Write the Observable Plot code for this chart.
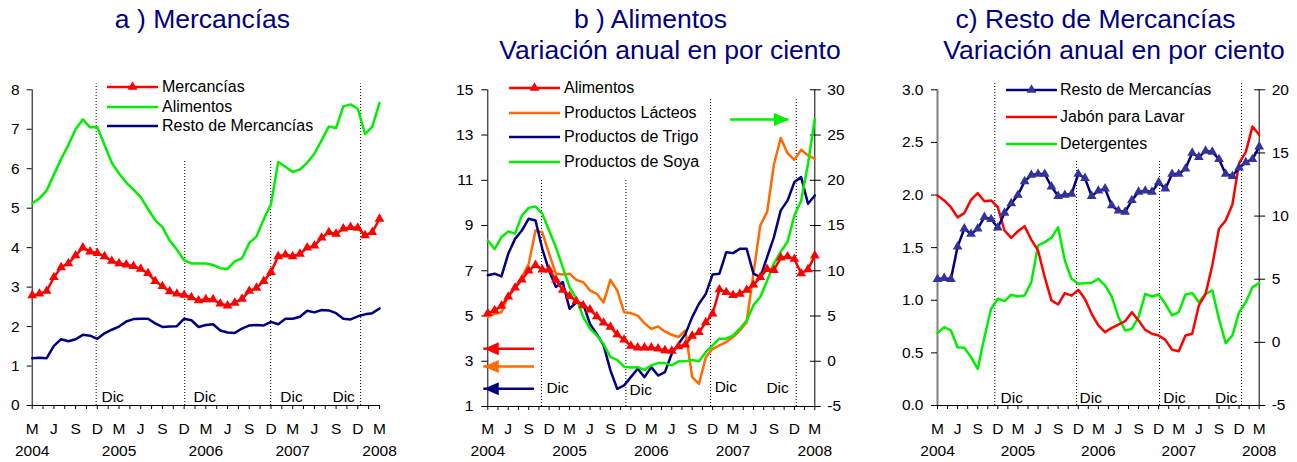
<!DOCTYPE html>
<html>
<head>
<meta charset="utf-8">
<script src="https://cdn.jsdelivr.net/npm/d3@7"></script>
<script src="https://cdn.jsdelivr.net/npm/@observablehq/plot@0.6"></script>
<style>
html, body { margin: 0; padding: 0; background: #fff; }
#root { position: relative; width: 1297px; height: 462px; overflow: hidden;
  font-family: "Liberation Sans", Arial, Helvetica, sans-serif; }
.title { position: absolute; color: #000080; font-size: 26.5px; line-height: 26.5px;
  white-space: nowrap; text-align: center; width: 600px; }
.panel { position: absolute; top: 70px; }
.legtext { position: absolute; font-size: 16px; line-height: 16px; white-space: nowrap; color: #000; }
</style>
</head>
<body>
<div id="root"></div>
<script>
// ---------------- DATA (monthly, March 2004 .. March 2008) ----------------
const monthLetters = ["M", "J", "S", "D"];
const yearLabels = ["2004", "2005", "2006", "2007", "2008"];

// Panel a (per cent)
const mercancias = [2.79,2.83,2.9,3.25,3.5,3.6,3.8,4.0,3.9,3.86,3.78,3.66,3.6,3.57,3.53,3.46,3.35,3.15,3.02,2.89,2.83,2.8,2.74,2.66,2.69,2.69,2.58,2.53,2.6,2.7,2.9,2.98,3.15,3.38,3.78,3.82,3.78,3.84,4.0,4.05,4.25,4.39,4.35,4.48,4.52,4.5,4.31,4.39,4.73];
const alimentos = [5.12,5.25,5.45,5.85,6.25,6.6,7.0,7.25,7.05,7.05,6.6,6.15,5.88,5.65,5.47,5.28,4.98,4.7,4.52,4.18,3.95,3.68,3.6,3.6,3.6,3.56,3.48,3.46,3.65,3.73,4.12,4.28,4.72,5.1,6.17,6.05,5.92,5.98,6.15,6.38,6.72,7.07,7.03,7.58,7.63,7.52,6.88,7.06,7.67];
const restoMercancias = [1.2,1.21,1.2,1.51,1.68,1.63,1.68,1.79,1.77,1.69,1.83,1.92,2.0,2.13,2.19,2.2,2.2,2.08,1.99,2.0,2.01,2.2,2.16,1.99,2.04,2.06,1.9,1.85,1.84,1.95,2.03,2.04,2.03,2.12,2.06,2.2,2.2,2.25,2.4,2.36,2.42,2.41,2.34,2.2,2.18,2.26,2.31,2.34,2.46];

// Panel b (left axis: Alimentos, Lácteos, Trigo; right axis: Soya)
const lacteos = [4.95,5.1,5.17,5.9,6.28,6.72,7.3,8.78,8.7,7.75,6.87,6.84,6.87,6.6,6.5,6.13,5.98,5.6,6.6,6.13,5.17,5.13,5.02,4.68,4.43,4.54,4.32,4.17,4.07,4.36,2.3,2.0,3.18,3.55,3.7,3.85,4.07,4.36,4.73,6.9,9.0,9.6,11.7,12.87,12.2,11.9,12.35,12.1,11.95];
const trigo = [6.8,6.87,6.75,7.75,8.41,8.78,9.3,9.22,7.97,7.0,6.28,6.5,5.32,5.6,5.54,4.65,4.2,3.7,2.6,1.78,1.93,2.3,2.67,2.3,2.74,2.37,2.52,3.33,3.77,4.2,4.95,5.54,5.98,6.84,6.87,7.82,7.78,7.97,7.97,6.87,6.72,7.6,8.49,9.67,10.1,10.92,11.14,9.96,10.33];
const soya = [13.35,12.4,13.7,14.35,14.1,16.1,16.95,17.1,16.3,14.45,12.6,10.4,8.2,6.9,4.9,3.6,2.85,1.9,0.45,0.15,-0.6,-0.7,-0.65,-0.95,-0.45,-0.2,-0.2,-0.45,0,0,0.15,0,1.0,1.75,2.5,2.5,2.85,3.6,4.5,6.2,7.1,8.9,10.8,12.1,13.2,16.1,17.75,21.8,26.8];

// Panel c (left axis: Resto de Mercancías; right axis: Jabón, Detergentes)
const jabon = [11.63,11.24,10.7,9.9,10.23,11.29,11.82,11.18,11.24,10.7,8.86,8.28,8.8,9.2,8.12,7.28,5.16,3.32,3.0,3.9,3.7,4.16,3.44,2.26,1.34,0.81,1.15,1.41,1.68,2.39,1.73,0.99,0.68,0.54,0.2,-0.59,-0.7,0.54,0.68,2.92,3.84,6.09,9.0,9.65,10.92,14.19,15.06,17.1,16.44];
const detergentes = [0.73,1.2,0.94,-0.38,-0.43,-1.17,-2.1,0.41,2.66,3.45,3.26,3.77,3.63,3.71,4.77,7.67,7.94,8.28,9.12,6.48,5.03,4.64,4.69,4.72,5.03,4.51,3.63,2.0,0.94,1.07,2.0,3.84,3.63,3.79,3.05,2.13,2.39,3.79,3.9,3.18,3.84,4.11,1.86,-0.06,0.54,2.39,3.18,4.37,4.69];

// Axis tick values
const ticksA = [0, 1, 2, 3, 4, 5, 6, 7, 8];
const ticksBLeft = [1, 3, 5, 7, 9, 11, 13, 15];
const ticksBRight = [-5, 0, 5, 10, 15, 20, 25, 30];
const ticksCLeft = [0, 0.5, 1, 1.5, 2, 2.5, 3];
const ticksCRight = [-5, 0, 5, 10, 15, 20];

const monthIndex = d3.range(49);
const rows = monthIndex.map(i => ({
  i, mercancias: mercancias[i], alimentos: alimentos[i], resto: restoMercancias[i],
  lacteos: lacteos[i], trigo: trigo[i], soya: soya[i], jabon: jabon[i], detergentes: detergentes[i]
}));
const letterTicks = d3.range(0, 49, 3).map(i => ({ i, label: monthLetters[(i / 3) % 4] }));
const yearTicks = d3.range(0, 49, 12).map(i => ({ i, label: yearLabels[i / 12] }));

// ---------------- LAYOUT / STYLE ----------------
const FONT = '"Liberation Sans", Arial, Helvetica, sans-serif';
const RED = "#ff0000", GREEN = "#00ee00", NAVY = "#000080", ORANGE = "#ff6a00", NAVYMK = "#333399";
const root = document.getElementById("root");

function addTitle(text, cx, baseline) {
  const d = document.createElement("div");
  d.className = "title";
  d.textContent = text;
  d.style.left = (cx - 300) + "px";
  d.style.top = (baseline - 22.4) + "px";
  root.appendChild(d);
}

function addLegend(items, x0, x1, tx, ys) {
  items.forEach((it, k) => {
    const y = ys[k];
    const w = x1 - x0;
    const svg = d3.select(root).append("svg")
      .style("position", "absolute").style("left", x0 + "px").style("top", (y - 8) + "px")
      .attr("width", w).attr("height", 16);
    svg.append("line").attr("x1", 0).attr("x2", w).attr("y1", 8).attr("y2", 8)
      .attr("stroke", it.color).attr("stroke-width", 2.5);
    if (it.marker) svg.append("path").attr("d", d3.symbol(d3.symbolTriangle, 42)())
      .attr("transform", `translate(${w / 2},8)`).attr("fill", it.marker);
    d3.select(root).append("div").attr("class", "legtext")
      .style("left", tx + "px").style("top", (y - 8) + "px").text(it.label);
  });
}

// arrow head symbol (tip at origin, pointing +x)
const arrowHead = { draw(ctx) { ctx.moveTo(0, 0); ctx.lineTo(-15, -6.5); ctx.lineTo(-15, 6.5); ctx.closePath(); } };

function xAxis(ymin, off) {
  return [
    Plot.ruleY([ymin], { stroke: "#000", strokeWidth: 1 }),
    Plot.axisX({ anchor: "bottom", ticks: d3.range(0, 48.001, 1.5), tickSize: 4, tickFormat: () => "", label: null }),
    Plot.text(letterTicks, { x: "i", y: ymin, text: "label", dy: 23.8 - off, lineAnchor: "middle", fontSize: 15.5, fill: "#000" }),
    Plot.text(yearTicks, { x: "i", y: ymin, text: "label", dy: 46 - off, lineAnchor: "middle", fontSize: 15.5, fill: "#000" })
  ];
}

function panel(cfg, marks) {
  const svg = Plot.plot({
    width: cfg.width, height: 392,
    marginLeft: cfg.ml, marginRight: cfg.mr, marginTop: cfg.mt, marginBottom: cfg.mb,
    x: { domain: [0, 48], axis: null },
    y: { domain: cfg.ydomain, axis: null },
    color: { type: "identity" },
    style: { fontFamily: FONT, fontSize: "15.5px", color: "#000", background: "transparent", overflow: "visible" },
    marks
  });
  const div = document.createElement("div");
  div.className = "panel";
  div.style.left = cfg.left + "px";
  div.appendChild(svg);
  root.appendChild(div);
}

function decRules(rules) {
  return Plot.ruleX(rules, { x: "x", y1: "y1", y2: "y2", stroke: "#000", strokeWidth: 1, strokeDasharray: "1,2" });
}
function dicLabels(labels) {
  return Plot.text(labels, { x: "x", y: "y", text: () => "Dic", textAnchor: "start", lineAnchor: "middle", fontSize: 15.5, fill: "#000" });
}
function leftAxis(ticks, size, pad, fmt) {
  return Plot.axisY({ anchor: "left", ticks, tickSize: size, tickPadding: pad, tickFormat: fmt, fontSize: 15.5, label: null });
}
// right-hand axis: values in right units, converted to the left scale by toLeft
function rightAxis(values, toLeft) {
  const pos = values.map(toLeft);
  const lab = new Map(pos.map((p, k) => [p, String(values[k])]));
  return [
    Plot.axisY({ anchor: "right", ticks: pos, tickSize: 11, dx: -5.5, tickFormat: () => "", label: null }),
    Plot.axisY({ anchor: "right", ticks: pos, tickSize: 0, tickPadding: 12.5, tickFormat: p => lab.get(p), fontSize: 15.5, label: null })
  ];
}

// ---------------- PANEL A ----------------
addTitle("a ) Mercancías", 202.5, 28);
panel({ left: 0, width: 430, ml: 31.7, mr: 51, mt: 19.3, mb: 57, ydomain: [0, 8] }, [
  decRules([{ x: 8.84, y1: 0, y2: 8.15 }, { x: 21.08, y1: 0, y2: 6.2 }, { x: 32.96, y1: 0, y2: 6.2 }, { x: 45.39, y1: 0, y2: 8.15 }]),
  dicLabels([{ x: 9.57, y: 0.22 }, { x: 22.3, y: 0.22 }, { x: 34.3, y: 0.22 }, { x: 41.5, y: 0.22 }]),
  Plot.ruleX([0], { stroke: "#000", strokeWidth: 1 }),
  ...xAxis(0, 0),
  leftAxis(ticksA, 5, 7.5, d => String(d)),
  Plot.line(rows, { x: "i", y: "alimentos", stroke: GREEN, strokeWidth: 2.5 }),
  Plot.line(rows, { x: "i", y: "resto", stroke: NAVY, strokeWidth: 2.5 }),
  Plot.line(rows, { x: "i", y: "mercancias", stroke: RED, strokeWidth: 2.5 }),
  Plot.dot(rows, { x: "i", y: "mercancias", symbol: "triangle", r: 3.6, fill: RED })
]);
addLegend([
  { label: "Mercancías", color: RED, marker: RED },
  { label: "Alimentos", color: GREEN },
  { label: "Resto de Mercancías", color: NAVY }
], 107, 158, 162, [87, 107, 126]);

// ---------------- PANEL B ----------------
addTitle("b ) Alimentos", 650.5, 28);
addTitle("Variación anual en por ciento", 670, 59.3);
const toLeftB = v => (v + 7.5) / 2.5;
const arrowsB = [
  { y: 3.55, x1: 6.86, x2: -0.59, color: RED },
  { y: 2.77, x1: 6.86, x2: -0.59, color: ORANGE },
  { y: 1.78, x1: 6.86, x2: -0.59, color: NAVY },
  { y: 13.69, x1: 35.64, x2: 44.2, color: GREEN }
];
panel({ left: 430, width: 440, ml: 57.3, mr: 55.7, mt: 19.3, mb: 56, ydomain: [1, 15] }, [
  decRules([{ x: 7.88, y1: 1, y2: 11.0 }, { x: 20.27, y1: 1, y2: 11.0 }, { x: 32.7, y1: 1, y2: 14.6 }, { x: 45.28, y1: 1, y2: 14.6 }]),
  dicLabels([{ x: 8.6, y: 1.8 }, { x: 20.8, y: 1.75 }, { x: 33.3, y: 1.85 }, { x: 40.9, y: 1.8 }]),
  Plot.ruleX([0], { stroke: "#000", strokeWidth: 1 }),
  Plot.ruleX([48], { stroke: "#000", strokeWidth: 1 }),
  ...xAxis(1, 1),
  leftAxis(ticksBLeft, 6, 8.5, d => String(d)),
  ...rightAxis(ticksBRight, toLeftB),
  Plot.line(rows, { x: "i", y: "lacteos", stroke: ORANGE, strokeWidth: 2.5 }),
  Plot.line(rows, { x: "i", y: "trigo", stroke: NAVY, strokeWidth: 2.5 }),
  Plot.line(rows, { x: "i", y: d => toLeftB(d.soya), stroke: GREEN, strokeWidth: 2.5 }),
  Plot.line(rows, { x: "i", y: "alimentos", stroke: RED, strokeWidth: 2.5 }),
  Plot.dot(rows, { x: "i", y: "alimentos", symbol: "triangle", r: 3.6, fill: RED }),
  Plot.ruleY(arrowsB, { y: "y", x1: "x1", x2: "x2", stroke: "color", strokeWidth: 2.5 }),
  Plot.dot(arrowsB, { x: "x2", y: "y", symbol: arrowHead, r: 5, fill: "color", stroke: null, rotate: d => (d.x2 < d.x1 ? 180 : 0) })
]);
addLegend([
  { label: "Alimentos", color: RED, marker: RED },
  { label: "Productos Lácteos", color: ORANGE },
  { label: "Productos de Trigo", color: NAVY },
  { label: "Productos de Soya", color: GREEN }
], 509, 560, 564, [88, 113, 137, 162]);

// ---------------- PANEL C ----------------
addTitle("c) Resto de Mercancías", 1095.5, 28);
addTitle("Variación anual en por ciento", 1114, 59.3);
const toLeftC = v => (v + 5) * 3 / 25;
panel({ left: 860, width: 437, ml: 77, mr: 38.3, mt: 19.3, mb: 57, ydomain: [0, 3] }, [
  decRules([{ x: 8.55, y1: 0, y2: 3.06 }, { x: 20.75, y1: 0, y2: 2.33 }, { x: 33.13, y1: 0, y2: 2.33 }, { x: 45.37, y1: 0, y2: 3.08 }]),
  dicLabels([{ x: 9.4, y: 0.067 }, { x: 21.2, y: 0.067 }, { x: 33.7, y: 0.067 }, { x: 41.4, y: 0.067 }]),
  Plot.ruleX([0], { stroke: "#808080", strokeWidth: 2 }),
  Plot.ruleX([48], { stroke: "#000", strokeWidth: 1 }),
  ...xAxis(0, 0),
  leftAxis(ticksCLeft, 6, 8, d3.format(".1f")),
  ...rightAxis(ticksCRight, toLeftC),
  Plot.line(rows, { x: "i", y: d => toLeftC(d.detergentes), stroke: GREEN, strokeWidth: 2.5 }),
  Plot.line(rows, { x: "i", y: d => toLeftC(d.jabon), stroke: RED, strokeWidth: 2.5 }),
  Plot.line(rows, { x: "i", y: "resto", stroke: NAVY, strokeWidth: 2.5 }),
  Plot.dot(rows, { x: "i", y: "resto", symbol: "triangle", r: 3.6, fill: NAVYMK })
]);
addLegend([
  { label: "Resto de Mercancías", color: NAVY, marker: NAVYMK },
  { label: "Jabón para Lavar", color: RED },
  { label: "Detergentes", color: GREEN }
], 1005.7, 1056.7, 1060, [90, 117, 144]);
</script>
</body>
</html>
